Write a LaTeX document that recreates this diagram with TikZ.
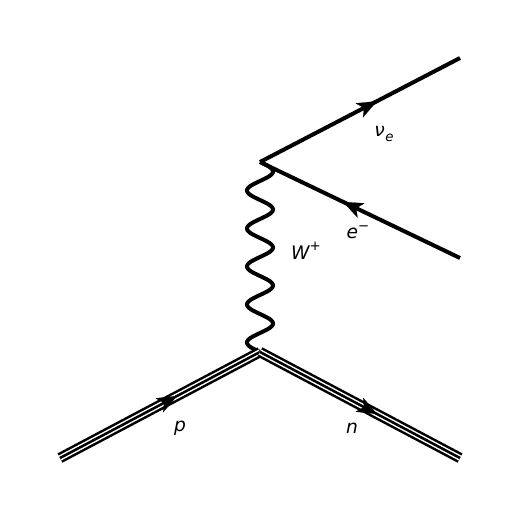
\documentclass[tikz,border=0pt]{standalone}
\usepackage{fontspec}
\setmainfont{DejaVu Sans}
\usetikzlibrary{arrows.meta,decorations.markings}
\begin{document}
\begin{tikzpicture}[x=0.75pt,y=-0.75pt,
  every node/.style={font=\fontsize{14}{16}\selectfont, inner sep=0pt},
  tip/.style={decoration={markings, mark=at position 0.585 with {\arrow{Stealth[length=15pt,width=12pt,inset=4pt,line width=0.1pt]}}}},
  fermion/.style={line width=3pt, tip, postaction={decorate}},
  triple/.style={line width=7.9pt, postaction={draw=white, line width=4.1pt},
    postaction={draw=black, line width=1.9pt}, tip, postaction={decorate}},
  boson/.style={line width=3pt}]
\useasboundingbox (0,0) rectangle (519,519);
\coordinate (v1) at (260,162);
\coordinate (v2) at (260,352);
\coordinate (nu) at (460,58);
\coordinate (el) at (460,258);
\coordinate (pin) at (60,458);
\coordinate (nout) at (460,458);
\draw[boson, shift={(v1)}] plot[domain=0:190, samples=200, smooth] ({13*sin(\x*9.47368)}, {\x});
\draw[triple] (pin) -- (v2);
\draw[triple] (v2) -- (nout);
\draw[fermion] (v1) -- (nu);
\draw[fermion] (el) -- (v1);
\newcommand{\scr}[1]{{\fontsize{10}{11}\selectfont #1}}
\node (lnu) at (384,134) {\itshape ν\kern0.3pt\raisebox{-0.3em}{\scr{e}}};
\node (le) at (358,232) {\itshape e\raisebox{0.45em}{\scr{\upshape −}}};
\node (lw) at (306,251) {\itshape W\raisebox{0.45em}{\scr{\upshape +}}};
\node (lp) at (180,428) {\itshape p};
\node (ln) at (352,428) {\itshape n};
\end{tikzpicture}
\end{document}
